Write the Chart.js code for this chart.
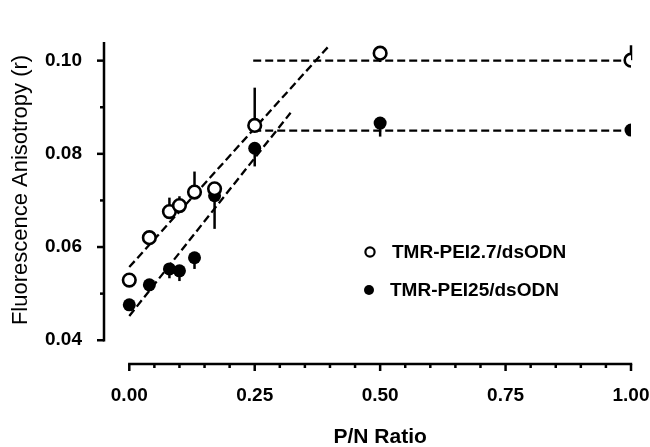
<!DOCTYPE html>
<html lang="en">
<head>
    <meta charset="UTF-8">
    <title>Fluorescence Anisotropy vs P/N Ratio</title>
    <style>
        body {
            margin: 0;
            padding: 0;
            background: #fff;
        }
        canvas {
            display: block;
        }
    </style>
</head>
<body>
    <canvas id="anisoChart" width="650" height="447"></canvas>

    <script src="https://cdn.jsdelivr.net/npm/chart.js"></script>
    <script>
        // Data
        const pnRatio = [0, 0.04, 0.08, 0.10, 0.13, 0.17, 0.25, 0.50, 1.00];

        const pei27 = [0.0529, 0.0620, 0.0676, 0.0689, 0.0718, 0.0725, 0.0861, 0.1016, 0.1001];
        const pei27ErrUp = [0, 0, 0.0030, 0.0020, 0.0044, 0, 0.0081, 0, 0.0032];
        const pei27ErrDown = [0, 0, 0, 0, 0, 0, 0, 0.0019, 0];

        const pei25 = [0.0476, 0.0519, 0.0553, 0.0549, 0.0577, 0.0710, 0.0812, 0.0866, 0.0851];
        const pei25ErrUp = [0, 0, 0, 0, 0, 0, 0, 0, 0];
        const pei25ErrDown = [0, 0, 0.0020, 0.0022, 0.0024, 0.0071, 0.0039, 0.0029, 0];

        // dashed fit lines (end points) and plateaus
        const fit27X = [0, 0.40];
        const fit27Y = [0.0557, 0.1034];
        const fit25X = [0, 0.3215];
        const fit25Y = [0.0452, 0.0888];
        const plateauX = [0.247, 1.00];
        const plateau27 = [0.100, 0.100];
        const plateau25 = [0.085, 0.085];

        const xTicks = [0, 0.25, 0.50, 0.75, 1.00];
        const yTicks = [0.04, 0.06, 0.08, 0.10];
        const xMinorStep = 0.05;
        const yMinorStep = 0.01;

        const seriesNames = ['TMR-PEI2.7/dsODN', 'TMR-PEI25/dsODN'];

        function toPoints(xs, ys) {
            return xs.map((x, i) => ({ x: x, y: ys[i] }));
        }

        function dashed(xs, ys) {
            return {
                type: 'line',
                data: toPoints(xs, ys),
                borderColor: '#000',
                borderWidth: 2.3,
                borderDash: [8, 4],
                pointRadius: 0,
                fill: false,
                order: 2
            };
        }

        // error bars, drawn under the markers
        const errorBars = {
            id: 'errorBars',
            beforeDatasetsDraw(chart) {
                const ctx = chart.ctx;
                const x = chart.scales.x, y = chart.scales.y;
                const sets = [
                    [pei27, pei27ErrUp, pei27ErrDown],
                    [pei25, pei25ErrUp, pei25ErrDown]
                ];
                ctx.save();
                ctx.strokeStyle = '#000';
                ctx.lineWidth = 2.5;
                sets.forEach(([vals, up, down]) => {
                    vals.forEach((v, i) => {
                        if (!up[i] && !down[i]) return;
                        const px = x.getPixelForValue(pnRatio[i]);
                        ctx.beginPath();
                        ctx.moveTo(px, y.getPixelForValue(v + up[i]));
                        ctx.lineTo(px, y.getPixelForValue(v - down[i]));
                        ctx.stroke();
                    });
                });
                ctx.restore();
            }
        };

        // detached axes with minor ticks, axis titles and legend
        const axesAndLegend = {
            id: 'axesAndLegend',
            afterDraw(chart) {
                const ctx = chart.ctx;
                const x = chart.scales.x, y = chart.scales.y;
                const area = chart.chartArea;
                ctx.save();
                ctx.strokeStyle = '#000';
                ctx.lineWidth = 2.5;
                ctx.lineCap = 'butt';

                // y axis
                const yx = area.left;
                ctx.beginPath();
                ctx.moveTo(yx, y.getPixelForValue(yTicks[0]) + 1.2);
                ctx.lineTo(yx, area.top);
                ctx.stroke();
                for (let v = yTicks[0]; v <= 0.1001; v += yMinorStep) {
                    const py = y.getPixelForValue(v);
                    const major = yTicks.some(t => Math.abs(t - v) < 1e-6);
                    ctx.beginPath();
                    ctx.moveTo(yx, py);
                    ctx.lineTo(yx - (major ? 7 : 4), py);
                    ctx.stroke();
                }

                // x axis
                const xy = area.bottom;
                ctx.beginPath();
                ctx.moveTo(x.getPixelForValue(0) - 1.2, xy);
                ctx.lineTo(x.getPixelForValue(1) + 1.2, xy);
                ctx.stroke();
                for (let v = 0; v <= 1.0001; v += xMinorStep) {
                    const px = x.getPixelForValue(v);
                    const major = xTicks.some(t => Math.abs(t - v) < 1e-6);
                    ctx.beginPath();
                    ctx.moveTo(px, xy);
                    ctx.lineTo(px, xy + (major ? 7 : 4));
                    ctx.stroke();
                }

                // axis titles
                ctx.fillStyle = '#000';
                ctx.textAlign = 'center';
                ctx.textBaseline = 'middle';
                ctx.font = 'bold 21px "Liberation Sans", Arial, sans-serif';
                ctx.fillText('P/N Ratio', x.getPixelForValue(0.5), 437);

                ctx.save();
                ctx.translate(21, 190);
                ctx.rotate(-Math.PI / 2);
                ctx.font = '22px "Liberation Sans", Arial, sans-serif';
                ctx.fillText('Fluorescence Anisotropy (r)', 0, 0);
                ctx.restore();

                // legend
                ctx.lineWidth = 2.2;
                ctx.beginPath();
                ctx.arc(370, 252, 4.6, 0, Math.PI * 2);
                ctx.fillStyle = '#fff';
                ctx.fill();
                ctx.stroke();
                ctx.beginPath();
                ctx.arc(369, 290, 5, 0, Math.PI * 2);
                ctx.fillStyle = '#000';
                ctx.fill();

                ctx.textAlign = 'left';
                ctx.font = 'bold 19px "Liberation Sans", Arial, sans-serif';
                ctx.fillText(seriesNames[0], 392, 253);
                ctx.fillText(seriesNames[1], 390, 291);
                ctx.restore();
            }
        };

        const ctxAniso = document.getElementById('anisoChart').getContext('2d');
        const anisoChart = new Chart(ctxAniso, {
            type: 'scatter',
            data: {
                datasets: [
                    {
                        label: seriesNames[0],
                        data: toPoints(pnRatio, pei27),
                        pointStyle: 'circle',
                        pointRadius: 6.3,
                        pointBorderWidth: 2.6,
                        pointBackgroundColor: '#fff',
                        pointBorderColor: '#000',
                        order: 0
                    },
                    {
                        label: seriesNames[1],
                        data: toPoints(pnRatio, pei25),
                        pointStyle: 'circle',
                        pointRadius: 6.5,
                        pointBorderWidth: 0,
                        pointBackgroundColor: '#000',
                        pointBorderColor: '#000',
                        order: 1
                    },
                    dashed(fit27X, fit27Y),
                    dashed(fit25X, fit25Y),
                    dashed(plateauX, plateau27),
                    dashed(plateauX, plateau25)
                ]
            },
            options: {
                responsive: false,
                devicePixelRatio: 1,
                animation: false,
                layout: {
                    padding: { left: 0, right: 19, top: 42, bottom: 0 }
                },
                plugins: {
                    legend: { display: false },
                    tooltip: { enabled: false }
                },
                scales: {
                    x: {
                        type: 'linear',
                        min: -0.0504,
                        max: 1.0,
                        grid: { display: false },
                        border: { display: false },
                        afterBuildTicks: (scale) => {
                            scale.ticks = xTicks.map(v => ({ value: v }));
                        },
                        afterFit: (scale) => {
                            scale.height = 83;
                            scale.paddingLeft = 0;
                            scale.paddingRight = 0;
                        },
                        ticks: {
                            color: '#000',
                            padding: 12,
                            maxRotation: 0,
                            font: { family: '"Liberation Sans", Arial, sans-serif', size: 19, weight: 'bold' },
                            callback: (v) => v.toFixed(2)
                        }
                    },
                    y: {
                        type: 'linear',
                        min: 0.0349,
                        max: 0.104,
                        grid: { display: false },
                        border: { display: false },
                        afterBuildTicks: (scale) => {
                            scale.ticks = yTicks.map(v => ({ value: v }));
                        },
                        afterFit: (scale) => {
                            scale.width = 104;
                            scale.paddingTop = 0;
                            scale.paddingBottom = 0;
                        },
                        ticks: {
                            color: '#000',
                            padding: 14,
                            font: { family: '"Liberation Sans", Arial, sans-serif', size: 19, weight: 'bold' },
                            callback: (v) => v.toFixed(2)
                        }
                    }
                }
            },
            plugins: [errorBars, axesAndLegend]
        });
    </script>
</body>
</html>
